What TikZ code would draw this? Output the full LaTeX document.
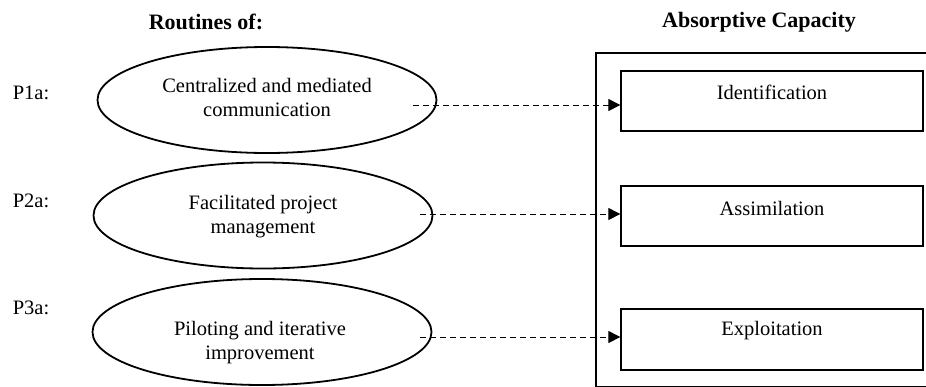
\documentclass[tikz,border=0pt]{standalone}
\usepackage{fontspec}
\setmainfont{Liberation Serif}
\usetikzlibrary{shapes.geometric,arrows.meta}
\begin{document}
\begin{tikzpicture}[x=1pt,y=-1pt,
  ell/.style={draw, ellipse, line width=1.8pt, minimum width=339pt, minimum height=106pt, inner sep=0pt},
  txt/.style={font=\fontsize{20.5}{24}\selectfont, align=center, inner sep=0pt},
  head/.style={font=\fontsize{22}{26}\selectfont\bfseries, inner sep=0pt},
  inbox/.style={draw, line width=1.3pt, minimum width=302pt, minimum height=60pt, inner sep=0pt},
  outerbox/.style={draw, line width=2.2pt},
  arr/.style={dash pattern=on 6pt off 4pt, line width=1pt, -{Triangle[length=12pt,width=12pt]}},
]
\useasboundingbox (0,0) rectangle (926,386);
\clip (0,0) rectangle (926,386);

% headers
\node[head] (h1) at (206,22) {Routines of:};
\node[head] (h2) at (759,22) {Absorptive Capacity};

% outer box
\draw[outerbox] (596,53) rectangle (940,386.6);

% ellipses
\node[ell] (e1) at (267,100) {};
\node[ell] (e2) at (263,215.5) {};
\node[ell] (e3) at (262,332) {};
\node[txt] (t1) at (267,97) {Centralized and mediated\\communication};
\node[txt] (t2) at (263,217) {Facilitated project\\management};
\node[txt] (t3) at (260,343) {Piloting and iterative\\improvement};

% P labels
\node[txt] (p1) at (31,93) {P1a:};
\node[txt] (p2) at (31,201) {P2a:};
\node[txt] (p3) at (31,308) {P3a:};

% inner boxes
\node[inbox] (b1) at (772,101) {};
\node[inbox] (b2) at (772,216) {};
\node[inbox, minimum height=61pt] (b3) at (772,339.5) {};
\node[txt] (l1) at (772,92) {Identification};
\node[txt] (l2) at (772,208) {Assimilation};
\node[txt] (l3) at (772,331) {Exploitation};

% arrows
\coordinate (s1) at (413,105);
\coordinate (s2) at (420,214);
\coordinate (s3) at (420,337);
\draw[arr] (s1) -- (s1 -| b1.west);
\draw[arr] (s2) -- (s2 -| b2.west);
\draw[arr] (s3) -- (s3 -| b3.west);
\end{tikzpicture}
\end{document}
